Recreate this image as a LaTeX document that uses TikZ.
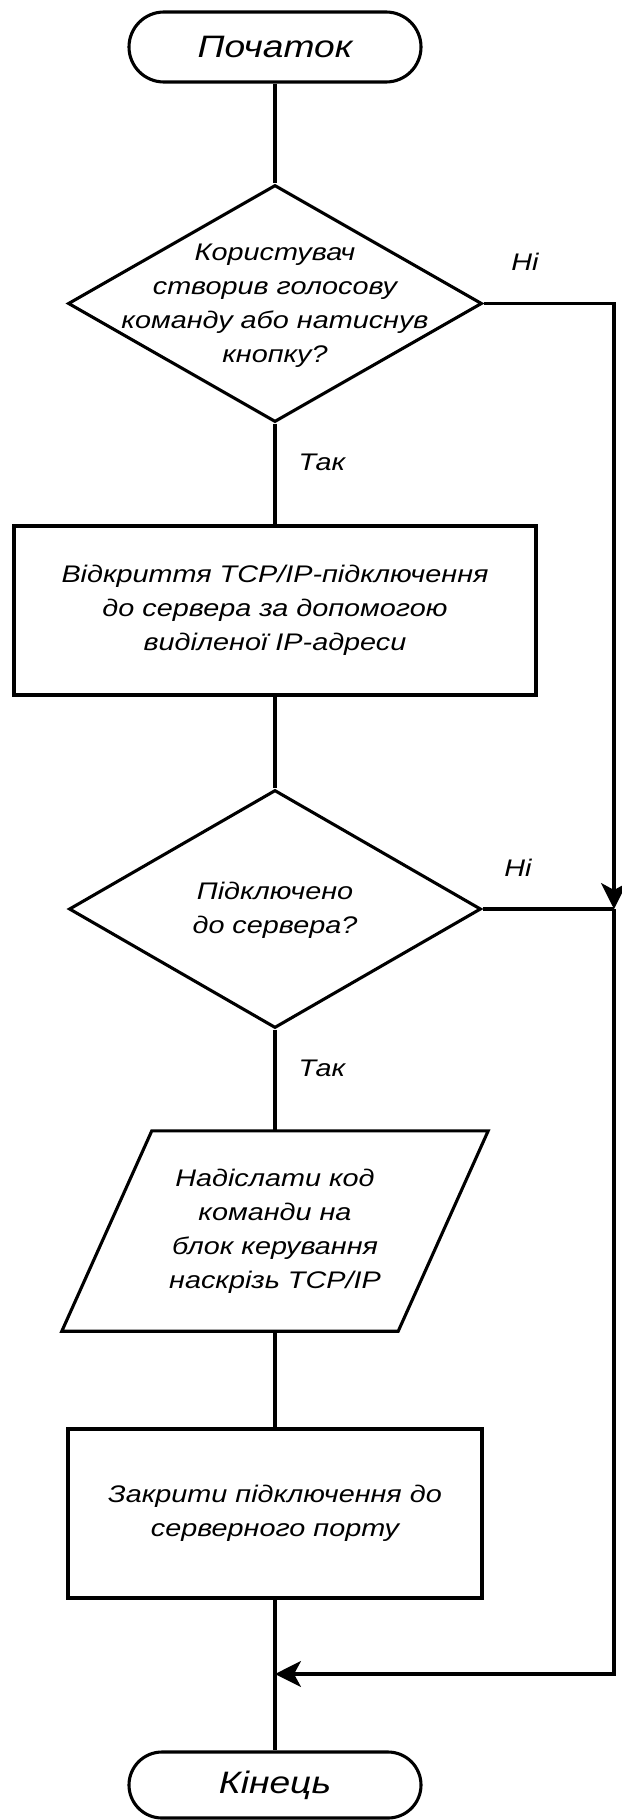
\documentclass[tikz,border=0pt]{standalone}
\usepackage{fontspec}
\setmainfont{Liberation Sans}[FakeStretch=1.2]
\usetikzlibrary{shapes.geometric,shapes.misc,arrows.meta}
\newcommand\bodyf{\fontsize{24}{34}\selectfont\itshape}
\newcommand\bigf{\fontsize{31}{37}\selectfont\itshape}
\tikzset{
  base/.style={line width=3.1pt, draw=black},
  term/.style={base, rounded rectangle, minimum width=292pt, minimum height=70pt, inner sep=0pt, font=\bigf},
  proc/.style={base, rectangle, inner sep=0pt, align=center, font=\bodyf},
  dia/.style={base, diamond, inner sep=0pt},
  txt/.style={align=center, font=\bodyf, inner sep=0pt},
  lab/.style={font=\bodyf, inner sep=0pt},
  flow/.style={line width=3.1pt},
  arr/.style={flow, -{Stealth[length=26pt,width=26pt,inset=7pt]}},
}
\begin{document}
\begin{tikzpicture}[x=1pt,y=-1pt]
\useasboundingbox (0,0) rectangle (621,1820);
% nodes
\node[term] (st) at (275,47) {Початок};
\node[dia, minimum width=414pt, minimum height=237pt] (d1) at (275,303.5) {};
\node[txt] (d1t) at (275,306) {Користувач\\створив голосову\\команду або натиснув\\кнопку?};
\node[proc, minimum width=522pt, minimum height=169pt] (b1) at (275,610.5) {Відкриття TCP/IP-підключення\\до сервера за допомогою\\виділеної IP-адреси};
\node[dia, minimum width=412pt, minimum height=238pt] (d2) at (275,909) {};
\node[txt] (d2t) at (275,910) {Підключено\\до сервера?};
\node[txt, minimum width=336pt, minimum height=200pt] (p) at (275,1231) {Надіслати код\\команди на\\блок керування\\наскрізь TCP/IP};
\draw[base] ([xshift=45pt]p.north west) -- ([xshift=45pt]p.north east) -- ([xshift=-45pt]p.south east) -- ([xshift=-45pt]p.south west) -- cycle;
\node[proc, minimum width=414pt, minimum height=169pt] (b2) at (275,1513.5) {Закрити підключення до\\серверного порту};
\node[term, minimum height=66pt] (en) at (275,1785) {Кінець};
% labels
\node[lab] (n1) at (525,262) {Ні};
\node[lab] (y1) at (322,462) {Так};
\node[lab] (n2) at (518,868) {Ні};
\node[lab] (y2) at (322,1068) {Так};
% connectors
\coordinate (j1) at (614,909);
\coordinate (j2) at (614,1674);
\coordinate (m) at (275,1674);
\draw[flow] (st.south) -- (d1.north);
\draw[flow] (d1.south) -- (b1.north);
\draw[flow] (b1.south) -- (d2.north);
\draw[flow] (d2.south) -- (p.north);
\draw[flow] (p.south) -- (b2.north);
\draw[flow] (b2.south) -- (en.north);
\draw[arr] (d1.east) -| (j1);
\draw[flow] (d2.east) -- (j1);
\draw[arr] (j1) -- (j2) -- (m);
\end{tikzpicture}
\end{document}
